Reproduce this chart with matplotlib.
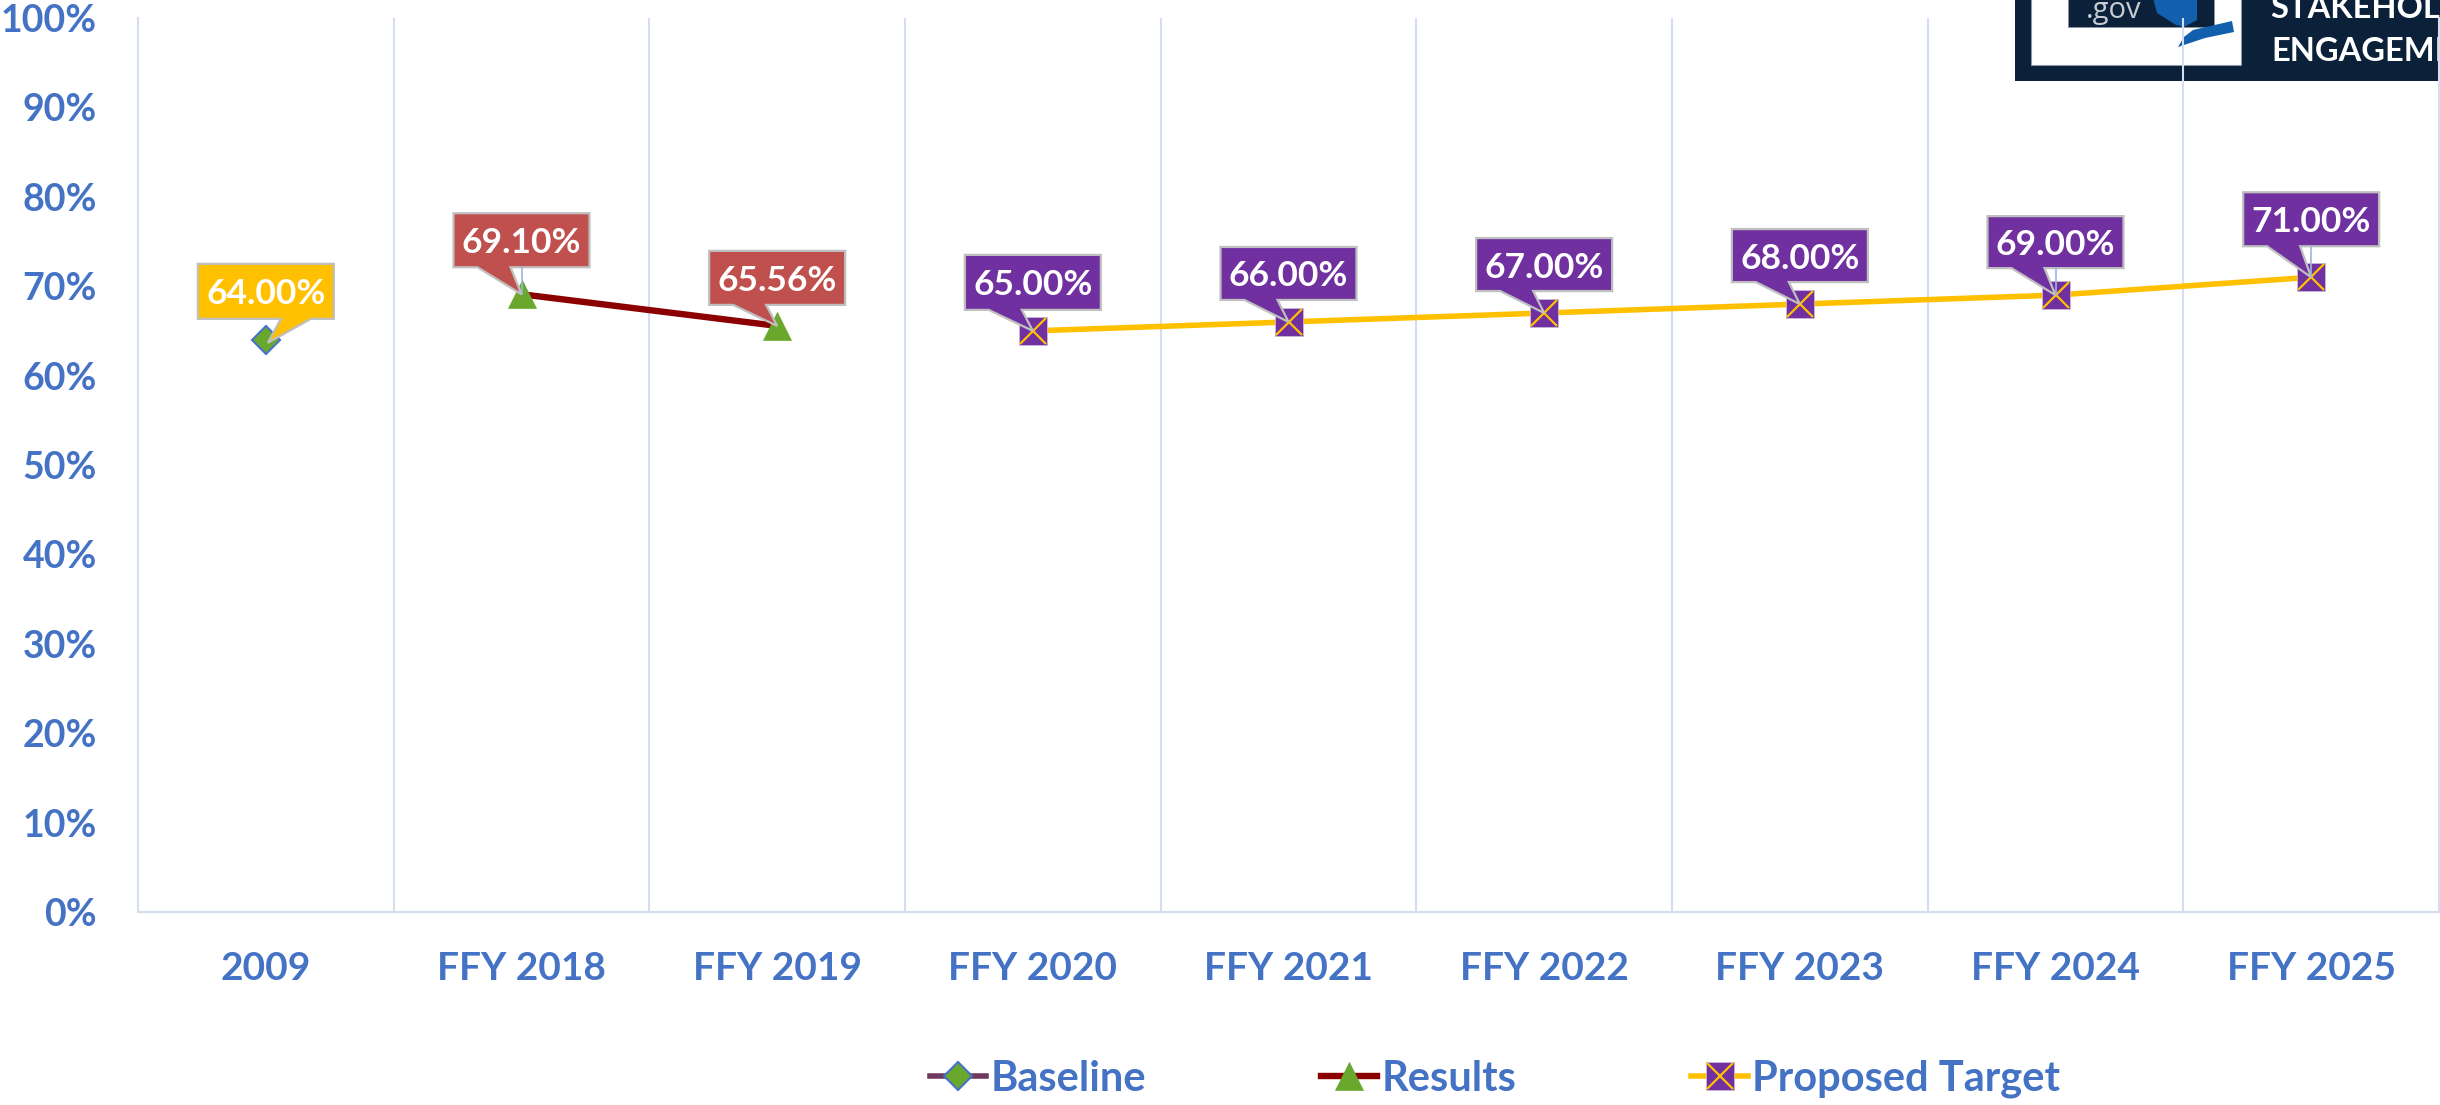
import numpy as np
import matplotlib
matplotlib.use("Agg")
import matplotlib.pyplot as plt
from matplotlib.patches import Polygon, Rectangle
from matplotlib.transforms import ScaledTranslation
from matplotlib.ticker import FuncFormatter
from matplotlib.legend_handler import HandlerTuple

categories = ["2009", "FFY 2018", "FFY 2019", "FFY 2020", "FFY 2021",
              "FFY 2022", "FFY 2023", "FFY 2024", "FFY 2025"]
baseline = [64.0, np.nan, np.nan, np.nan, np.nan, np.nan, np.nan, np.nan, np.nan]
results = [np.nan, 69.10, 65.56, np.nan, np.nan, np.nan, np.nan, np.nan, np.nan]
target = [np.nan, np.nan, np.nan, 65.0, 66.0, 67.0, 68.0, 69.0, 71.0]
y_ticks = list(range(0, 101, 10))

BLUE = "#4472C4"
GRID = "#D3DEF1"
plt.rcParams["font.family"] = ["Lato", "DejaVu Sans"]

W, H = 2440, 1105
fig = plt.figure(figsize=(W / 100, H / 100), dpi=100, facecolor="white")

# logo strip, in pixel coordinates, behind the chart
bg = fig.add_axes([0, 0, 1, 1], zorder=0)
bg.set_xlim(0, W); bg.set_ylim(H, 0); bg.axis("off")
bg.add_patch(Rectangle((2015, -2), 430, 83, fc="#0B2039", ec="none"))
bg.add_patch(Rectangle((2031, -2), 210, 67, fc="white", ec="#8A97A6", lw=0.8))
bg.add_patch(Rectangle((2068, -2), 146, 29, fc="#0B2039", ec="#8A97A6", lw=0.6))
bg.add_patch(Polygon([(2153, -2), (2197, -2), (2197, 20), (2184, 27), (2176, 25), (2157, 13)],
                     fc="#125FAE", ec="none"))
bg.add_patch(Polygon([(2178, 47), (2184, 37), (2193, 30), (2232, 21), (2234, 32), (2205, 38), (2187, 44)],
                     fc="#125FAE", ec="none"))
bg.text(2114, 18, ".gov", color="#C8CDD3", fontsize=21, family="Open Sans", ha="center", va="baseline")
bg.text(2270, 18, "STAKEHOLDER", color="white", fontsize=23.5, fontweight="bold", ha="left", va="baseline")
bg.text(2271, 61, "ENGAGEMENT", color="white", fontsize=23.5, fontweight="bold", ha="left", va="baseline")

left, right, top, bottom = 138, 2439, 18, 912
ax = fig.add_axes([left / W, 1 - bottom / H, (right - left) / W, (bottom - top) / H], zorder=1)
ax.patch.set_alpha(0)
x = np.arange(len(categories))
ax.set_xlim(-0.5, len(categories) - 0.5)
ax.set_ylim(0, 100)

ax.spines["top"].set_visible(False)
for s in ["left", "right", "bottom"]:
    ax.spines[s].set_color(GRID)
    ax.spines[s].set_linewidth(1.5)

ax.set_xticks(x, categories)
ax.set_xticks(np.arange(0.5, len(categories) - 1), minor=True)
ax.set_yticks(y_ticks)
ax.yaxis.set_major_formatter(FuncFormatter(lambda v, _: f"{v:.0f}%"))
ax.grid(True, which="minor", axis="x", color=GRID, lw=1.5)
ax.tick_params(axis="x", which="both", length=0)
ax.tick_params(axis="x", which="major", pad=28, labelsize=28, labelcolor=BLUE)
ax.tick_params(axis="y", length=0, pad=29.5, labelsize=27, labelcolor=BLUE)
for t in ax.get_xticklabels() + ax.get_yticklabels():
    t.set_fontweight("bold")

MS = 19.5
l1, = ax.plot(x, baseline, color="#70385C", lw=4, marker="D", ms=MS * 0.72, mfc="#6AA82D",
              mec=BLUE, mew=1.5, label="Baseline", zorder=3, clip_on=False)
l2, = ax.plot(x, results, color="#8B0000", lw=4.6, marker="^", ms=MS, mfc="#6AA82D",
              mec="#6AA82D", mew=0.5, label="Results", zorder=3, clip_on=False)
l3, = ax.plot(x, target, color="#FFC000", lw=4, marker="s", ms=MS, mfc="#7030A0",
              mec="#C9B8D8", mew=0.6, label="Proposed Target", zorder=3, clip_on=False)
lx, = ax.plot(x, target, ls="none", marker="x", ms=MS * 0.95, mec="#FFC000", mew=1.6, zorder=4, clip_on=False)

# offsets of each callout box above its point, in pixels (top, bottom)
box_offsets = {0: (76, 21), 1: (81, 27), 2: (75, 21), 3: (76, 21), 4: (75, 22),
               5: (75, 22), 6: (75, 22), 7: (79, 27), 8: (85, 31)}
colors = {0: "#FFC000", 1: "#C0504D", 2: "#C0504D"}


def callout(i, value):
    t, b = box_offsets[i]
    w = 68
    fc = colors.get(i, "#7030A0")
    if i == 0:
        pts = [(-w, t), (w, t), (w, b), (45, b), (2, -3), (15, b), (-w, b)]
    else:
        pts = [(-w, t), (w, t), (w, b), (-11, b), (0, 0), (-44, b), (-w, b)]
    tr = ScaledTranslation(x[i], value, ax.transData)
    ax.add_patch(Polygon(pts, closed=True, fc=fc, ec="#BFBFBF", lw=1.6, transform=tr, zorder=6, clip_on=False))
    if b > 25:
        ax.plot([0, 0], [0, b], color="#9DB4E0", lw=1.2, transform=tr, zorder=7)
    ax.text(0, (t + b) / 2, f"{value:.2f}%", color="white", fontsize=25.5, fontweight="bold",
            ha="center", va="center_baseline", transform=tr, zorder=8)


for series in (baseline, results, target):
    for i, v in enumerate(series):
        if not np.isnan(v):
            callout(i, v)

leg = fig.legend(handles=[l1, l2, (l3, lx)], labels=["Baseline", "Results", "Proposed Target"],
                 handler_map={tuple: HandlerTuple(ndivide=1, pad=0)},
                 loc="center", bbox_to_anchor=(1495 / W, 1 - 1079 / H), ncol=3,
                 frameon=False, numpoints=1, fontsize=30, handlelength=1.35, handletextpad=0.1,
                 columnspacing=4.2, borderpad=0, borderaxespad=0)
for t in leg.get_texts():
    t.set_color(BLUE)
    t.set_fontweight("bold")

fig.savefig("out.png", dpi=100)
